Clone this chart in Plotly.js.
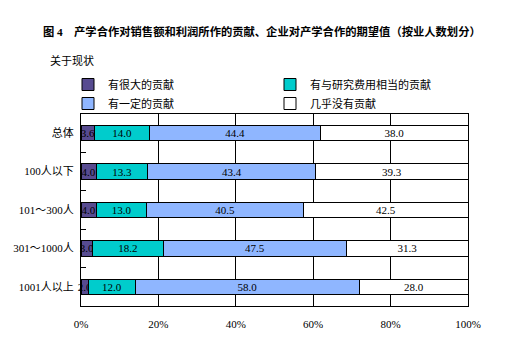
<!DOCTYPE html>
<html>
<head>
<meta charset="utf-8">
<script src="https://cdn.plot.ly/plotly-3.0.1.min.js"></script>
<style>html,body{margin:0;padding:0;background:#fff;}#chart{width:529px;height:361px;}</style>
</head>
<body>
<div id="chart"></div>
<script>
const categories = ["总体", "100人以下", "101～300人", "301～1000人", "1001人以上"];
const seriesNames = ["有很大的贡献", "有与研究费用相当的贡献", "有一定的贡献", "几乎没有贡献"];
const big = [3.6, 4.0, 4.0, 3.0, 2.0];
const comparable = [14.0, 13.3, 13.0, 18.2, 12.0];
const some = [44.4, 43.4, 40.5, 47.5, 58.0];
const none = [38.0, 39.3, 42.5, 31.3, 28.0];
const xTicks = [0, 20, 40, 60, 80, 100];
const colors = ["#574B90", "#00CCCC", "#8FB6FF", "#FFFFFF"];

const FONT = "'Liberation Serif', 'Noto Sans CJK SC', serif";
const allSeries = [big, comparable, some, none];

const data = allSeries.map((vals, i) => ({
  type: "bar",
  orientation: "h",
  name: seriesNames[i],
  y: categories,
  x: vals,
  width: 0.4,
  marker: { color: colors[i], line: { color: "#000", width: 1 } },
  text: vals.map(v => v.toFixed(1)),
  texttemplate: "%{text}",
  textposition: "inside",
  insidetextanchor: "middle",
  textangle: 0,
  constraintext: "none",
  cliponaxis: false,
  textfont: { family: FONT, size: 11, color: "#000" },
  hoverinfo: "skip"
}));

const layout = {
  width: 529,
  height: 361,
  barmode: "stack",
  paper_bgcolor: "#fff",
  plot_bgcolor: "#fff",
  font: { family: FONT, size: 11, color: "#000" },
  margin: { l: 81, r: 61, t: 114, b: 55 },
  title: {
    text: "<b>图 4　产学合作对销售额和利润所作的贡献、企业对产学合作的期望值（按业人数划分）</b>",
    xref: "container", yref: "container",
    x: 43 / 529, xanchor: "left",
    y: 1 - 32 / 361, yanchor: "middle",
    font: { family: FONT, size: 11.3, color: "#000" }
  },
  annotations: [{
    text: "关于现状", xref: "paper", yref: "paper",
    x: (48 - 81) / 387, xanchor: "left",
    y: (306 - 60) / 192, yanchor: "middle",
    showarrow: false, font: { family: FONT, size: 11, color: "#000" }
  }],
  showlegend: true,
  legend: {
    orientation: "h",
    x: (68 - 81) / 387, xanchor: "left",
    y: (306 - 70) / 192, yanchor: "top",
    entrywidth: 157, entrywidthmode: "pixels",
    itemwidth: 30,
    traceorder: "normal",
    font: { family: FONT, size: 11, color: "#000" },
    bgcolor: "rgba(0,0,0,0)"
  },
  xaxis: {
    range: [0, 100],
    tickvals: xTicks,
    ticktext: xTicks.map(v => v + "%"),
    showgrid: true, gridcolor: "#000", gridwidth: 1,
    showline: true, linecolor: "#000", linewidth: 1, mirror: true,
    zeroline: false,
    ticks: "", ticklabelstandoff: 8,
    tickfont: { family: FONT, size: 11, color: "#000" },
    fixedrange: true
  },
  yaxis: {
    type: "category",
    autorange: "reversed",
    showgrid: false,
    showline: true, linecolor: "#000", linewidth: 1, mirror: true,
    ticks: "inside", tickson: "boundaries", ticklen: 5, tickcolor: "#000", tickwidth: 1,
    ticklabelstandoff: 4,
    tickfont: { family: FONT, size: 11, color: "#000" },
    fixedrange: true
  }
};

Plotly.newPlot("chart", data, layout, { displayModeBar: false, staticPlot: true });
</script>
</body>
</html>
